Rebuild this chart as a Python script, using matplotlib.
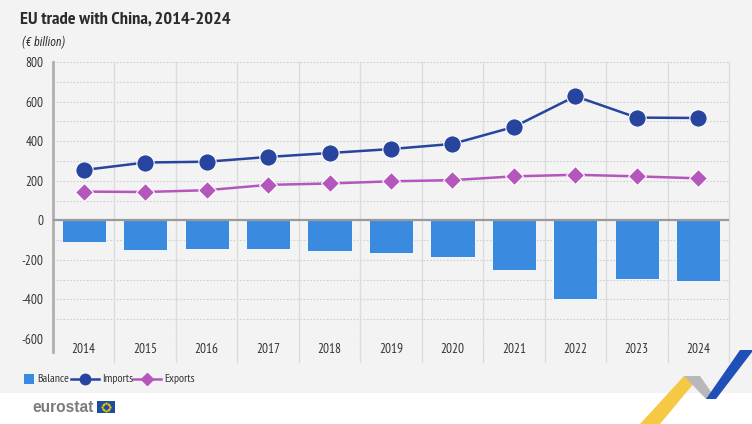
import matplotlib
matplotlib.use("Agg")
import matplotlib.pyplot as plt
from matplotlib import font_manager
from matplotlib.lines import Line2D
from matplotlib.patches import Polygon, Rectangle
import numpy as np

years = ["2014", "2015", "2016", "2017", "2018", "2019", "2020", "2021", "2022", "2023", "2024"]
imports = [254, 292, 296, 320, 340, 360, 386, 472, 627, 519, 517]
exports = [145, 143, 152, 179, 186, 197, 203, 222, 230, 222, 212]
balance = [-112, -151, -147, -145, -157, -167, -184, -251, -399, -299, -306]
yticks = [-600, -400, -200, 0, 200, 400, 600, 800]
series_names = ["Balance", "Imports", "Exports"]

ttf = font_manager.fontManager.ttflist
installed = {f.name for f in ttf}
prefs = ["PT Sans Narrow", "Roboto Condensed", "Archivo Narrow", "Barlow Semi Condensed",
         "Liberation Sans Narrow", "Liberation Sans"]
FONT = [f for f in prefs if f in installed] + ["DejaVu Sans"]
italic_ok = {f.name for f in ttf if f.style == "italic"}
ITAL = [f for f in ["Roboto Condensed", "Archivo Narrow", "Barlow Semi Condensed",
                    "PT Sans Narrow", "Liberation Sans"] if f in italic_ok] + ["DejaVu Sans"]
plt.rcParams["font.family"] = FONT

W, H = 752, 424
fig = plt.figure(figsize=(W / 100, H / 100), dpi=100)
fig.patch.set_facecolor("white")
fig.add_artist(Rectangle((0, 1 - 393 / H), 1, 393 / H, transform=fig.transFigure,
                         facecolor="#f3f3f3", edgecolor="none", zorder=0))

left, right, top, bottom = 53, 729, 62, 339
ax = fig.add_axes([left / W, 1 - bottom / H, (right - left) / W, (bottom - top) / H])
ax.set_facecolor("none")
x = np.arange(len(years))

ax.set_xlim(-0.5, len(years) - 0.5)
ax.set_ylim(-600, 800)

for v in range(-600, 801, 100):
    if v == 0:
        continue
    ax.axhline(v, color="#cfcfcf", lw=0.8, ls=(0, (1.5, 1.5)), zorder=1)
ext = -(362 - bottom) / (bottom - top)
for d in np.arange(0.5, len(years) - 0.4, 1.0):
    ax.axvline(d, ymin=ext, ymax=1, color="#dcdcdc", lw=1.0, clip_on=False, zorder=1)
ax.axvline(-0.5, ymin=-(352 - bottom) / (bottom - top), ymax=1, color="#b0b0b0", lw=2.0,
           clip_on=False, zorder=2)

BAR_C, IMP_C, EXP_C = "#3a8ae0", "#27449e", "#b556bd"
ax.bar(x, balance, width=0.72, color=BAR_C, edgecolor="white", linewidth=0.6, zorder=3)
ax.axhline(0, color="#9a9a9a", lw=1.6, zorder=4)
ax.plot(x, imports, color=IMP_C, lw=1.8, marker="o", ms=12.5, mfc=IMP_C,
        mec="white", mew=0.8, zorder=6)
ax.plot(x, exports, color=EXP_C, lw=1.8, marker="D", ms=9.5, mfc=EXP_C,
        mec="white", mew=0.8, zorder=5)

for s in ax.spines.values():
    s.set_visible(False)
ax.set_yticks(yticks)
ax.set_yticklabels([str(v) for v in yticks], fontsize=9.5, color="#333333")
ax.tick_params(axis="y", length=0, pad=7)
ax.set_xticks(x)
ax.set_xticklabels(years, fontsize=9.5, color="#333333")
ax.tick_params(axis="x", length=0, pad=3)

fig.text(20 / W, 1 - 20 / H, "EU trade with China, 2014-2024", fontsize=13.2, fontweight="bold",
         color="#2b2b2b", va="center", ha="left")
fig.text(22 / W, 1 - 42 / H, "(€ billion)", fontsize=8.6, style="italic", color="#333333",
         va="center", ha="left", family=ITAL)

# legend drawn manually (figure pixels)
ly = 1 - 379 / H
def fx(px):
    return px / W
fig.add_artist(Rectangle((fx(24), 1 - 384 / H), 10 / W, 10 / H, transform=fig.transFigure,
                         facecolor=BAR_C, edgecolor="none"))
fig.add_artist(Line2D([fx(71), fx(99)], [ly, ly], transform=fig.transFigure, color=IMP_C, lw=1.8))
fig.add_artist(Line2D([fx(85)], [ly], transform=fig.transFigure, color=IMP_C, marker="o",
                      ms=7.5, ls="none"))
fig.add_artist(Line2D([fx(133), fx(161)], [ly, ly], transform=fig.transFigure, color=EXP_C, lw=1.8))
fig.add_artist(Line2D([fx(147)], [ly], transform=fig.transFigure, color=EXP_C, marker="D",
                      ms=6, ls="none"))
for px, name in zip([37, 102, 164], series_names):
    fig.text(fx(px), ly, name, fontsize=8.5, color="#333333", va="center", ha="left")

# eurostat logo
fig.text(32 / W, 1 - 407 / H, "eurostat", fontsize=11.2, fontweight="bold", color="#7b7b7b",
         family=["Liberation Sans", "DejaVu Sans"], va="center", ha="left")
fig.add_artist(Rectangle((97 / W, 1 - 413 / H), 18 / W, 12 / H, transform=fig.transFigure,
                         facecolor="#1f4d9e", edgecolor="none"))
th = np.linspace(0, 2 * np.pi, 13)[:-1]
fig.add_artist(Line2D(106 / W + 3.6 / W * np.cos(th), 1 - 407 / H + 3.6 / H * np.sin(th),
                      transform=fig.transFigure, ls="none", marker="o", ms=0.6,
                      color="#f5d000"))

def poly(pts, color, z=1):
    fig.add_artist(Polygon([(px / W, 1 - py / H) for px, py in pts], closed=True,
                           transform=fig.transFigure, facecolor=color, edgecolor="none",
                           zorder=z))

poly([(640, 424), (660, 424), (700, 376), (684, 376)], "#f6c945")
poly([(684, 376), (700, 376), (716, 399), (706, 399)], "#b8b8b8")
poly([(706, 399), (716, 399), (752, 352), (752, 350), (740, 350)], "#1f4fb8")

fig.savefig("out.png", dpi=100, facecolor=fig.get_facecolor())
